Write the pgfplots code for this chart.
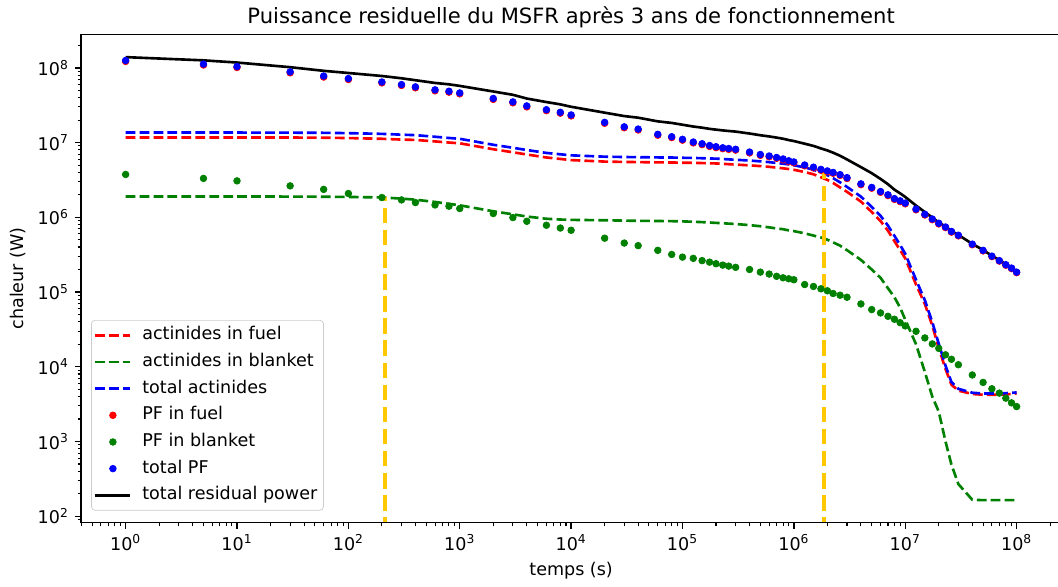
\documentclass[border=0pt]{standalone}
\usepackage{fontspec}
\setmainfont{DejaVu Sans}
\usepackage{pgfplots}
\usepackage{pgfplotstable}
\pgfplotsset{compat=1.18}

\definecolor{cred}{rgb}{1,0,0}
\definecolor{cgreen}{rgb}{0,0.5,0}
\definecolor{cblue}{rgb}{0,0,1}
\definecolor{vline}{RGB}{255,200,0}

% t: time (s); AF/AB/AT: actinides fuel/blanket/total;
% PFF/PFB/PFT: fission products fuel/blanket/total; TOT: total residual power (W)
\pgfplotstableread{
t       AF       AB       AT       PFF      PFB      PFT      TOT
1       1.170e7  1.897e6  1.360e7  1.216e8  3.74e6   1.253e8  1.389e8
5       1.170e7  1.897e6  1.360e7  1.089e8  3.31e6   1.122e8  1.258e8
10      1.170e7  1.897e6  1.360e7  1.009e8  3.07e6   1.040e8  1.176e8
30      1.167e7  1.892e6  1.356e7  8.57e7   2.63e6   8.83e7   1.019e8
60      1.161e7  1.884e6  1.349e7  7.52e7   2.36e6   7.76e7   9.11e7
100     1.148e7  1.871e6  1.335e7  6.97e7   2.08e6   7.18e7   8.52e7
200     1.122e7  1.841e6  1.306e7  6.28e7   1.837e6  6.46e7   7.77e7
300     1.096e7  1.778e6  1.274e7  5.80e7   1.706e6  5.97e7   7.24e7
400     1.084e7  1.718e6  1.256e7  5.40e7   1.574e6  5.56e7   6.82e7
600     1.035e7  1.603e6  1.195e7  4.92e7   1.462e6  5.07e7   6.27e7
800     1.000e7  1.514e6  1.151e7  4.72e7   1.406e6  4.86e7   6.01e7
1e3     9.77e6   1.445e6  1.122e7  4.48e7   1.309e6  4.61e7   5.73e7
2e3     8.13e6   1.202e6  9.33e6   3.78e7   1.122e6  3.89e7   4.82e7
3e3     7.41e6   1.096e6  8.51e6   3.40e7   9.91e5   3.50e7   4.35e7
4e3     6.92e6   1.023e6  7.94e6   3.00e7   8.83e5   3.09e7   3.88e7
6e3     6.31e6   9.55e5   7.26e6   2.67e7   7.82e5   2.75e7   3.48e7
8e3     6.03e6   9.33e5   6.96e6   2.47e7   7.18e5   2.54e7   3.24e7
1e4     5.82e6   9.23e5   6.74e6   2.27e7   6.70e5   2.34e7   3.01e7
2e4     5.56e6   9.12e5   6.47e6   1.81e7   5.25e5   1.862e7  2.51e7
3e4     5.50e6   9.02e5   6.40e6   1.577e7  4.52e5   1.622e7  2.26e7
4e4     5.47e6   8.97e5   6.37e6   1.472e7  4.17e5   1.514e7  2.15e7
6e4     5.43e6   8.91e5   6.32e6   1.252e7  3.61e5   1.288e7  1.92e7
8e4     5.41e6   8.87e5   6.30e6   1.165e7  3.18e5   1.197e7  1.83e7
1e5     5.37e6   8.81e5   6.25e6   1.075e7  2.93e5   1.104e7  1.73e7
1.25e5  5.35e6   8.71e5   6.22e6   9.88e6   2.82e5   1.016e7  1.638e7
1.5e5   5.31e6   8.61e5   6.17e6   9.38e6   2.63e5   9.64e6   1.581e7
1.75e5  5.27e6   8.51e5   6.12e6   8.87e6   2.51e5   9.12e6   1.524e7
2e5     5.25e6   8.41e5   6.09e6   8.55e6   2.39e5   8.79e6   1.488e7
2.3e5   5.19e6   8.32e5   6.02e6   8.28e6   2.29e5   8.51e6   1.453e7
2.6e5   5.13e6   8.22e5   5.95e6   8.10e6   2.22e5   8.32e6   1.427e7
3e5     5.07e6   8.13e5   5.88e6   7.92e6   2.14e5   8.13e6   1.401e7
4e5     4.95e6   7.85e5   5.74e6   7.26e6   2.00e5   7.46e6   1.320e7
5e5     4.84e6   7.59e5   5.60e6   6.74e6   1.845e5  6.92e6   1.252e7
6e5     4.73e6   7.33e5   5.46e6   6.44e6   1.738e5  6.61e6   1.207e7
7e5     4.62e6   7.08e5   5.33e6   6.15e6   1.622e5  6.31e6   1.164e7
8e5     4.52e6   6.92e5   5.21e6   5.87e6   1.549e5  6.03e6   1.124e7
9e5     4.42e6   6.68e5   5.09e6   5.55e6   1.503e5  5.70e6   1.079e7
1e6     4.32e6   6.53e5   4.97e6   5.35e6   1.459e5  5.50e6   1.047e7
1.25e6  4.03e6   6.10e5   4.64e6   4.88e6   1.259e5  5.01e6   9.65e6
1.5e6   3.76e6   5.69e5   4.33e6   4.56e6   1.186e5  4.68e6   9.01e6
1.75e6  3.43e6   5.37e5   3.97e6   4.26e6   1.104e5  4.37e6   8.34e6
2e6     3.16e6   5.01e5   3.66e6   4.07e6   1.038e5  4.17e6   7.83e6
2.25e6  2.88e6   4.62e5   3.34e6   3.88e6   9.55e4   3.98e6   7.32e6
2.6e6   2.51e6   4.17e5   2.93e6   3.63e6   9.06e4   3.72e6   6.65e6
3e6     2.19e6   3.63e5   2.55e6   3.30e6   8.51e4   3.39e6   5.94e6
4e6     1.622e6  2.69e5   1.89e6   2.73e6   6.92e4   2.80e6   4.69e6
5e6     1.175e6  2.00e5   1.375e6  2.45e6   5.82e4   2.51e6   3.89e6
6e6     8.91e5   1.549e5  1.046e6  2.16e6   5.25e4   2.21e6   3.26e6
7e6     6.61e5   1.122e5  7.73e5   1.95e6   4.73e4   2.00e6   2.77e6
8e6     4.79e5   8.51e4   5.64e5   1.735e6  4.32e4   1.778e6  2.34e6
9e6     3.63e5   6.17e4   4.25e5   1.62e6   3.89e4   1.66e6   2.09e6
1e7     2.82e5   4.27e4   3.25e5   1.514e6  3.52e4   1.549e6  1.87e6
1.25e7  1.259e5  2.00e4   1.459e5  1.258e6  2.98e4   1.288e6  1.434e6
1.5e7   6.92e4   8.51e3   7.77e4   1.072e6  2.43e4   1.096e6  1.174e6
1.75e7  3.55e4   3.98e3   3.95e4   9.28e5   2.02e4   9.48e5   9.88e5
2e7     1.778e4  2.51e3   2.03e4   8.14e5   1.762e4  8.32e5   8.52e5
2.3e7   9.33e3   1.00e3   1.033e4  7.27e5   1.445e4  7.41e5   7.51e5
2.6e7   5.75e3   490      6.24e3   6.33e5   1.259e4  6.46e5   6.52e5
3e7     4.79e3   269      5.06e3   5.64e5   1.064e4  5.75e5   5.80e5
4e7     4.32e3   166      4.49e3   4.29e5   7.76e3   4.37e5   4.41e5
5e7     4.22e3   164      4.38e3   3.55e5   6.17e3   3.61e5   3.65e5
6e7     4.22e3   164      4.38e3   2.97e5   5.07e3   3.02e5   3.06e5
7e7     4.22e3   164      4.38e3   2.59e5   4.44e3   2.63e5   2.67e5
8e7     4.27e3   164      4.43e3   2.28e5   3.80e3   2.32e5   2.36e5
9e7     4.32e3   164      4.48e3   2.06e5   3.29e3   2.09e5   2.13e5
1e8     4.37e3   164      4.53e3   1.816e5  2.93e3   1.845e5  1.89e5
}\decay

\begin{document}
\begin{tikzpicture}
\path[use as bounding box] (-46.2pt,-36.3pt) rectangle (556.8pt,297.8pt);
\begin{axis}[
  at={(0,0)}, anchor=south west,
  scale only axis, width=558.6pt, height=278.2pt,
  xmode=log, ymode=log,
  xmin=0.398, xmax=2.512e8,
  ymin=82.4, ymax=2.8e8,
  axis on top,
  axis line style={line width=0.8pt},
  tick pos=left, tick align=outside,
  major tick length=3.5pt, minor tick length=2pt,
  every tick/.style={black, line width=0.8pt},
  every minor tick/.style={black, line width=0.6pt},
  xtick={1,10,100,1000,1e4,1e5,1e6,1e7,1e8},
  xticklabels={10\textsuperscript{0},10\textsuperscript{1},10\textsuperscript{2},10\textsuperscript{3},10\textsuperscript{4},10\textsuperscript{5},10\textsuperscript{6},10\textsuperscript{7},10\textsuperscript{8}},
  minor xtick={0.4,0.5,0.6,0.7,0.8,0.9,2,3,4,5,6,7,8,9,20,30,40,50,60,70,80,90,
    200,300,400,500,600,700,800,900,2e3,3e3,4e3,5e3,6e3,7e3,8e3,9e3,
    2e4,3e4,4e4,5e4,6e4,7e4,8e4,9e4,2e5,3e5,4e5,5e5,6e5,7e5,8e5,9e5,
    2e6,3e6,4e6,5e6,6e6,7e6,8e6,9e6,2e7,3e7,4e7,5e7,6e7,7e7,8e7,9e7,2e8},
  ytick={1e2,1e3,1e4,1e5,1e6,1e7,1e8},
  yticklabels={10\textsuperscript{2},10\textsuperscript{3},10\textsuperscript{4},10\textsuperscript{5},10\textsuperscript{6},10\textsuperscript{7},10\textsuperscript{8}},
  minor ytick={90,200,300,400,500,600,700,800,900,2e3,3e3,4e3,5e3,6e3,7e3,8e3,9e3,
    2e4,3e4,4e4,5e4,6e4,7e4,8e4,9e4,2e5,3e5,4e5,5e5,6e5,7e5,8e5,9e5,
    2e6,3e6,4e6,5e6,6e6,7e6,8e6,9e6,2e7,3e7,4e7,5e7,6e7,7e7,8e7,9e7,2e8},
  title={Puissance residuelle du MSFR après 3 ans de fonctionnement},
  title style={font=\fontsize{12}{14.4}\selectfont, yshift=-5.8pt},
  xlabel={temps (s)}, ylabel={chaleur (W)},
  legend cell align=left,
  legend image code/.code={\draw[mark repeat=2,mark phase=2,#1] plot coordinates {(0pt,0pt) (10pt,0pt) (20pt,0pt)};},
  legend style={at={(0,0)}, anchor=south west, xshift=5.7pt, yshift=6.8pt,
    draw=black!20, rounded corners=2pt, fill=white, fill opacity=0.8, text opacity=1,
    inner xsep=1.5pt, inner ysep=2pt, row sep=2.2pt, column sep=4pt,
    nodes={inner xsep=2pt, inner ysep=1.5pt, text height=7.5pt, text depth=2.5pt}},
  dashline/.style={line width=1.5pt, dash pattern=on 5.55pt off 2.4pt},
  dotmark/.style={only marks, mark=*, mark size=1.9pt, mark options={fill opacity=1, draw opacity=1}},
]
\addplot[cred, dashline] table[x=t, y=AF] {\decay};
\addlegendentry{actinides in fuel}
\addplot[cgreen, dashline] table[x=t, y=AB] {\decay};
\addlegendentry{actinides in blanket}
\addplot[cblue, dashline] table[x=t, y=AT] {\decay};
\addlegendentry{total actinides}
\addplot[cred, dotmark] table[x=t, y=PFF] {\decay};
\addlegendentry{PF in fuel}
\addplot[cgreen, dotmark] table[x=t, y=PFB] {\decay};
\addlegendentry{PF in blanket}
\addplot[cblue, dotmark] table[x=t, y=PFT] {\decay};
\addlegendentry{total PF}
\addplot[black, line width=1.5pt, line join=round] table[x=t, y=TOT] {\decay};
\addlegendentry{total residual power}
% vertical markers at the two reference times
\addplot[vline, line width=2.4pt, dash pattern=on 8.8pt off 3.8pt, forget plot] coordinates {(213,60) (213,1.88e6)};
\addplot[vline, line width=2.4pt, dash pattern=on 8.8pt off 3.8pt, forget plot] coordinates {(1.85e6,60) (1.85e6,4.05e6)};
\end{axis}
\end{tikzpicture}
\end{document}
